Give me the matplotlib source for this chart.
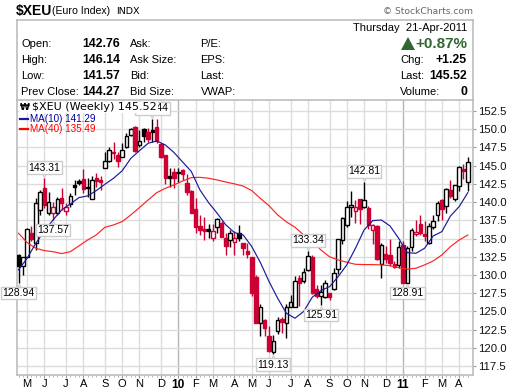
import matplotlib
matplotlib.use("Agg")
import matplotlib.pyplot as plt
from matplotlib.lines import Line2D
from matplotlib.patches import Polygon, Rectangle
from matplotlib.transforms import offset_copy

W, H = 520, 391
opens = [132.8,131.25,132.5,135.7,134.36,138.93,141.9,138.47,138.47,138.47,140.53,138.84,139.75,142.36,142.86,143.13,142.04,140.48,143.27,143.04,144.69,145.69,146.93,146.47,146.24,147.61,149.26,150.26,147.84,149.99,149.67,149.85,150.26,147.98,146.47,143.6,144.18,144.14,144.41,142.67,141.58,139.0,136.73,136.37,136.28,135.04,136.64,137.1,135.04,134.81,134.59,135.82,134.36,133.3,132.44,129.79,123.48,123.85,121.65,119.5,122.38,123.98,123.39,125.67,125.67,129.56,129.24,130.7,132.53,128.05,127.14,127.04,127.5,128.05,130.8,134.8,136.87,139.38,138.83,140.38,139.29,139.2,136.13,136.73,131.52,132.84,132.75,131.52,131.34,134.12,128.91,133.9,135.63,137.0,135.63,134.35,136.55,138.2,140.3,139.47,141.67,140.38,142.2,144.6,142.76]
highs = [132.9,132.5,136.4,136.7,140.5,141.67,143.31,141.44,140.07,140.76,141.98,139.93,141.2,143.04,143.2,144.5,143.27,143.6,143.96,143.6,146.93,147.52,148.3,146.93,148.16,149.44,150.13,150.45,149.9,150.13,150.13,151.44,151.36,148.16,146.47,144.64,144.64,144.64,144.6,143.9,141.7,140.5,138.3,137.9,137.0,137.0,137.8,137.4,135.7,136.2,136.0,136.8,134.4,134.4,132.44,130.0,126.0,124.0,123.0,121.8,124.2,124.2,126.0,127.2,129.9,130.0,131.0,133.34,132.7,128.6,128.6,129.3,127.5,131.0,135.0,138.0,140.2,141.5,140.3,140.4,142.81,139.5,137.0,136.8,134.4,134.0,135.0,131.9,134.6,134.6,134.0,136.4,137.5,138.3,137.4,137.1,138.3,140.2,140.4,142.0,143.0,142.4,145.0,145.2,146.14]
lows = [128.94,130.0,132.5,134.6,133.45,138.24,139.16,138.24,137.57,138.24,138.93,138.24,139.39,140.98,142.4,141.2,140.76,140.39,142.04,141.67,144.64,145.56,145.88,144.87,146.15,147.38,149.07,146.93,147.61,148.3,148.3,148.3,148.07,146.01,142.5,142.04,141.9,142.8,143.0,141.0,138.5,135.8,135.5,134.8,135.1,134.6,135.8,135.2,132.7,133.9,132.7,134.6,132.7,132.4,127.1,123.4,121.7,121.7,119.5,119.13,121.9,122.0,121.4,125.6,125.6,125.8,128.9,130.6,127.4,126.8,125.91,126.8,126.6,127.9,130.2,134.3,136.6,137.9,137.2,137.0,139.2,136.3,134.3,132.0,129.6,131.6,131.3,130.9,131.0,128.91,128.91,133.3,135.3,135.5,134.6,134.2,136.3,137.4,137.5,138.55,140.5,140.2,141.5,143.2,141.57]
closes = [131.2,132.5,136.28,134.9,139.93,141.44,139.6,140.07,139.29,140.48,139.84,139.29,140.9,142.04,142.6,141.8,141.87,143.04,142.95,142.77,145.69,147.16,146.7,145.69,147.16,149.07,149.99,147.06,148.43,149.07,148.62,149.62,148.43,146.15,143.25,143.3,143.27,143.96,143.86,141.35,138.56,136.64,136.18,136.09,136.1,136.05,137.65,135.27,134.04,135.73,135.04,135.06,133.76,132.94,127.5,123.48,125.58,122.7,119.6,120.97,123.85,123.6,125.67,126.36,129.24,128.87,130.47,132.66,127.59,127.14,127.7,128.87,127.04,130.24,134.9,137.8,139.29,139.65,139.29,139.1,140.25,136.9,136.85,132.16,134.08,132.16,131.7,131.06,133.8,128.96,133.66,136.18,135.95,135.8,135.4,136.77,137.46,139.84,139.0,141.76,140.84,142.35,144.8,144.27,145.52]

ma_weeks = list(range(0, 105, 2))
ma10 = [130.7,132.3,134.36,136.05,137.56,138.93,139.75,140.62,140.85,141.58,142.45,143.27,144.3,146.0,147.06,148.07,148.39,147.84,146.8,145.5,144.2,141.67,139.93,138.47,136.87,135.82,135.5,133.9,131.7,129.1,126.8,124.76,124.07,124.99,126.95,127.87,128.4,129.78,131.4,133.67,136.18,137.46,137.55,136.73,135.04,133.07,132.98,133.67,135.36,135.95,138.1,139.38,141.29]
ma40 = [135.73,134.45,133.67,133.35,133.2,132.94,133.2,134.0,134.8,135.5,136.55,136.87,137.33,138.24,139.25,140.3,141.3,141.9,142.36,142.9,143.36,143.4,143.27,143.04,142.76,142.5,142.2,141.58,140.5,139.5,138.24,137.3,136.55,135.5,134.6,133.44,132.5,132.07,131.75,131.47,131.43,131.43,131.38,131.29,131.0,130.8,130.93,131.38,131.93,132.75,133.9,134.8,135.49]

price_ticks = [117.5,120,122.5,125,127.5,130,132.5,135,137.5,140,142.5,145,147.5,150,152.5]
month_weeks = [2,6,11,15,20,24,28,33,37,41,45,50,54,58,63,67,72,76,80,85,89,94,98,102]
month_labels = ["M","J","J","A","S","O","N","D","10","F","M","A","M","J","J","A","S","O","N","D","11","F","M","A"]
callouts = [(6,143.31,"high"),(8,137.57,"low"),(0,128.94,"low"),(31,151.44,"high"),(59,119.13,"low"),(67,133.34,"high"),(70,125.91,"low"),(80,142.81,"high"),(90,128.91,"low")]

RED, NAVY, GRID, FRAME = "#cc0033", "#1a1a99", "#dcdcdc", "#bdbdbd"
fig = plt.figure(figsize=(W/100, H/100), dpi=100, facecolor="white")
sans = "Liberation Sans"
def T(x, y, s, size=8.0, weight="normal", color="black", ha="left", family=sans):
    return fig.text(x/W, 1-y/H, s, fontsize=size, fontweight=weight, color=color, ha=ha, va="center", family=family)

L, R, TOP, BOT = 16.5, 472.7, 100, 374.5
ax = fig.add_axes([L/W, 1-BOT/H, (R-L)/W, (BOT-TOP)/H])
ax.set_xlim(-0.463, 105.14); ax.set_ylim(116.35, 154.01)
ax.set_axisbelow(True)
ax.spines["top"].set_visible(False)
for s in ("left","right","bottom"):
    ax.spines[s].set_color(FRAME); ax.spines[s].set_linewidth(1.2)
ax.set_yticks(price_ticks); ax.set_yticklabels([f"{p:.1f}" for p in price_ticks], fontsize=8.2, family=sans, color="#111111")
ax.yaxis.tick_right(); ax.tick_params(axis="y", length=2.5, width=.8, color="#999999", pad=1.2)
ax.set_xticks(month_weeks); ax.set_xticklabels(month_labels, fontsize=8.0, family=sans)
ax.tick_params(axis="x", length=2, width=.8, color="#999999", pad=1.5)
for lab, m in zip(ax.get_xticklabels(), month_labels):
    if m.isdigit():
        lab.set_fontweight("bold"); lab.set_fontsize(8.6)
ax.grid(True, axis="y", color=GRID, lw=1)
for wk, m in zip(month_weeks, month_labels):
    ax.axvline(wk, color="#b5b5b5" if m.isdigit() else GRID, lw=1, zorder=0.5)
ax.set_xticks(range(105), minor=True)
ax.tick_params(axis="x", which="minor", length=1.5, width=.6, color="#aaaaaa")

for i, (o, h, l, c) in enumerate(zip(opens, highs, lows, closes)):
    col = RED if i and c < closes[i-1] else "black"
    ax.plot([i, i], [l, h], color=col, lw=1, zorder=3, solid_capstyle="butt")
    hollow = c > o
    ax.bar(i, abs(c-o), bottom=min(o, c), width=0.8, facecolor="white" if hollow else col,
           edgecolor=col, linewidth=1, zorder=4)
ax.plot(ma_weeks, ma40, color="#ff2222", lw=.85, zorder=5)
ax.plot(ma_weeks, ma10, color=NAVY, lw=.85, zorder=5)

for wk, val, side in callouts:
    sign = 1 if side == "high" else -1
    ax.annotate(f"{val:.2f}", xy=(wk, val), xytext=(0, sign*7.4), textcoords="offset points",
                ha="center", va="center", fontsize=7.5, family=sans, zorder=7, annotation_clip=False,
                bbox=dict(boxstyle="square,pad=0.12", fc="white", ec="#cccccc", lw=1))
    tr = offset_copy(ax.transData, fig=fig, x=0, y=sign*2.9, units="points")
    ax.plot([wk], [val], marker="v" if side == "high" else "^", ms=4.5, mfc="white", mec="#cccccc", mew=.8,
            transform=tr, zorder=6.5, clip_on=False)

# header panel
ax0 = fig.add_axes([L/W, 1-TOP/H, (R-L)/W, (TOP-19.5)/H]); ax0.set_xticks([]); ax0.set_yticks([])
for s in ax0.spines.values():
    s.set_color(FRAME); s.set_linewidth(1.2)
T(16, 11.5, "$XEU", 10, "bold"); T(52.5, 11.5, "(Euro Index)", 7.6); T(116, 11.5, "INDX", 6.8, family="DejaVu Sans")
T(473, 11.5, "© StockCharts.com", 6.6, color="#666666", ha="right", family="DejaVu Sans")
rows = [44, 60, 76, 92]
for y, a, b, c, d in zip(rows, ["Open:","High:","Low:","Prev Close:"], ["142.76","146.14","141.57","144.27"],
                         ["Ask:","Ask Size:","Bid:","Bid Size:"], ["P/E:","EPS:","Last:","VWAP:"]):
    T(21, y, a); T(82.5, y, b, 8.8, "bold"); T(130, y, c); T(200.5, y, d)
T(467, 28, "Thursday  21-Apr-2011", ha="right")
T(467, 44, "+0.87%", 11, "bold", "#336633", ha="right")
fig.add_artist(Polygon([[401/W,1-50/H],[415/W,1-50/H],[408/W,1-37/H]], closed=True, transform=fig.transFigure, fc="#336633", ec="none"))
T(400, 60, "Chg:"); T(467, 60, "+1.25", 8.8, "bold", ha="right")
T(400, 76, "Last:"); T(467, 76, "145.52", 8.8, "bold", ha="right")
T(400, 92, "Volume:"); T(467, 92, "0", 8.8, "bold", ha="right")

# legend
fig.add_artist(Rectangle((19/W, 1-113/H), 138.5/W, 11/H, transform=fig.transFigure, fc="white", ec="none", zorder=8))
T(32, 107, "$XEU (Weekly) 145.52", 8, family="DejaVu Sans").set_zorder(9)
T(19.5, 107, "₩", 6.5, "bold", family="DejaVu Sans").set_zorder(9)
fig.add_artist(Line2D([20/W,28/W],[1-118.5/H]*2, color=NAVY, lw=1.6, transform=fig.transFigure, zorder=9))
T(29.5, 118.5, "MA(10) 141.29", 7.1, color="#000099").set_zorder(9)
fig.add_artist(Line2D([20/W,28/W],[1-129/H]*2, color="#ff0000", lw=1.6, transform=fig.transFigure, zorder=9))
T(29.5, 129, "MA(40) 135.49", 7.1, color="#ff0000").set_zorder(9)

fig.savefig("out.png", dpi=100)
